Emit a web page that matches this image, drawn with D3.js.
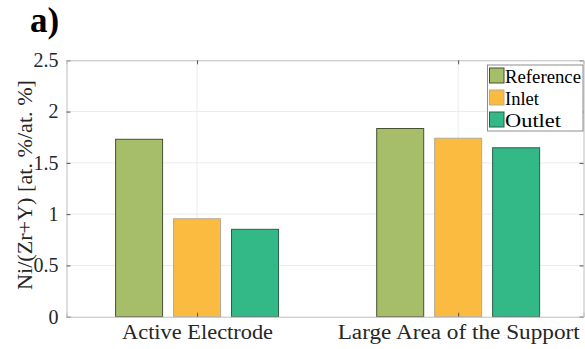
<!DOCTYPE html>
<html>
<head>
<meta charset="utf-8">
<script src="https://cdn.jsdelivr.net/npm/d3@7/dist/d3.min.js"></script>
<style>
  html, body { margin: 0; padding: 0; background: #fff; }
  svg { display: block; }
</style>
</head>
<body>
<svg id="chart" width="585" height="349"></svg>
<script>
// Ni/(Zr+Y) ratio per region and sample
const categories = ["Active Electrode", "Large Area of the Support"];
const seriesNames = ["Reference", "Inlet", "Outlet"];
const reference = [1.73, 1.835];
const inlet = [0.955, 1.74];
const outlet = [0.852, 1.647];
const yTicks = [0, 0.5, 1, 1.5, 2, 2.5];
const yTickLabels = ["0", "0.5", "1", "1.5", "2", "2.5"];

const fills = ["#a6bd6a", "#fbbb41", "#33b887"];
const edges = ["#46522f", "#b5aa95", "#2c5e4c"];
const seriesValues = [reference, inlet, outlet];

const SERIF = "'Liberation Serif', 'DejaVu Serif', serif";

const svg = d3.select("#chart");
const plotL = 66.5, plotR = 583.5, plotT = 60.3, plotB = 316.7;

const x = d3.scaleLinear().domain([0.5, 2.48]).range([plotL, plotR]);
const y = d3.scaleLinear().domain([0, 2.5]).range([plotB, plotT]);

const groupOffset = 0.222, barWidth = 0.18;

// grid
const grid = svg.append("g");
grid.selectAll("line.h").data(yTicks.slice(1, -1)).join("line")
  .attr("x1", plotL).attr("x2", plotR)
  .attr("y1", d => y(d)).attr("y2", d => y(d))
  .attr("stroke", "#ebebeb").attr("stroke-width", 1);
grid.selectAll("line.v").data(categories).join("line")
  .attr("x1", (d, i) => x(i + 1)).attr("x2", (d, i) => x(i + 1))
  .attr("y1", plotT).attr("y2", plotB)
  .attr("stroke", "#ebebeb").attr("stroke-width", 1);

// bars
const bars = [];
categories.forEach((c, ci) => {
  seriesValues.forEach((vals, si) => {
    bars.push({ ci, si, v: vals[ci] });
  });
});
svg.append("g").selectAll("rect").data(bars).join("rect")
  .attr("x", d => x(d.ci + 1 + (d.si - 1) * groupOffset - barWidth / 2))
  .attr("width", x(1 + barWidth) - x(1))
  .attr("y", d => y(d.v))
  .attr("height", d => y(0) - y(d.v))
  .attr("fill", d => fills[d.si])
  .attr("stroke", d => edges[d.si])
  .attr("stroke-width", 1);

// axes box
const axisColor = "#bdbdbd";
const leftAxis = d3.axisLeft(y).tickValues(yTicks)
  .tickFormat((d, i) => yTickLabels[i]).tickSize(-4).tickPadding(10);
const gL = svg.append("g").attr("transform", `translate(${plotL},0)`).call(leftAxis)
  .attr("font-family", null).attr("font-size", null);
gL.select(".domain").attr("stroke", axisColor);
gL.selectAll(".tick line").attr("stroke", "#555");
gL.selectAll(".tick text")
  .style("font-family", SERIF).style("font-size", "20px")
  .attr("fill", "#262626").attr("x", -8).attr("dy", "0.32em");

const rightAxis = d3.axisRight(y).tickValues(yTicks).tickFormat("").tickSize(-4);
const gR = svg.append("g").attr("transform", `translate(${plotR},0)`).call(rightAxis);
gR.select(".domain").attr("stroke", axisColor);
gR.selectAll(".tick line").attr("stroke", "#555");

const bottomAxis = d3.axisBottom(x).tickValues([1, 2])
  .tickFormat((d, i) => categories[i]).tickSize(-4).tickPadding(12);
const gB = svg.append("g").attr("transform", `translate(0,${plotB})`).call(bottomAxis)
  .attr("font-family", null).attr("font-size", null);
gB.select(".domain").attr("stroke", axisColor);
gB.selectAll(".tick line").attr("stroke", "#555");
gB.selectAll(".tick text")
  .style("font-family", SERIF).style("font-size", "20px")
  .attr("fill", "#262626")
  .attr("y", 22.5).attr("dy", 0)
  .attr("textLength", (d, i) => i === 0 ? 151 : 242)
  .attr("lengthAdjust", "spacingAndGlyphs");

const topAxis = d3.axisTop(x).tickValues([1, 2]).tickFormat("").tickSize(-4);
const gT = svg.append("g").attr("transform", `translate(0,${plotT})`).call(topAxis);
gT.select(".domain").attr("stroke", axisColor);
gT.selectAll(".tick line").attr("stroke", "#555");

// y label
svg.append("text")
  .attr("transform", `translate(32,${(80 + 290) / 2}) rotate(-90)`)
  .attr("text-anchor", "middle")
  .style("font-family", SERIF).style("font-size", "20px")
  .attr("fill", "#262626")
  .attr("textLength", 210).attr("lengthAdjust", "spacingAndGlyphs")
  .text("Ni/(Zr+Y) [at. %/at. %]");

// panel tag
svg.append("text")
  .attr("x", 30).attr("y", 32)
  .style("font-family", SERIF).style("font-size", "35px").style("font-weight", "bold")
  .attr("fill", "#000")
  .text("a)");

// legend
const lg = svg.append("g");
lg.append("rect").attr("x", 487.5).attr("y", 65).attr("width", 95.5).attr("height", 66)
  .attr("fill", "#fff").attr("stroke", "#8c8c8c").attr("stroke-width", 1);
const items = lg.selectAll("g.item").data(seriesNames).join("g")
  .attr("transform", (d, i) => `translate(0,${i * 22})`);
items.append("rect")
  .attr("x", 489.5).attr("y", 68).attr("width", 14.5).attr("height", 15)
  .attr("fill", (d, i) => fills[i]).attr("stroke", (d, i) => edges[i]).attr("stroke-width", 1);
items.append("text")
  .attr("x", 505).attr("y", 83.3)
  .style("font-family", SERIF).style("font-size", "19.5px")
  .attr("fill", "#000")
  .attr("textLength", 76).attr("lengthAdjust", "spacingAndGlyphs")
  .attr("textLength", (d, i) => [76, 34, 56][i])
  .text(d => d);
</script>
</body>
</html>
